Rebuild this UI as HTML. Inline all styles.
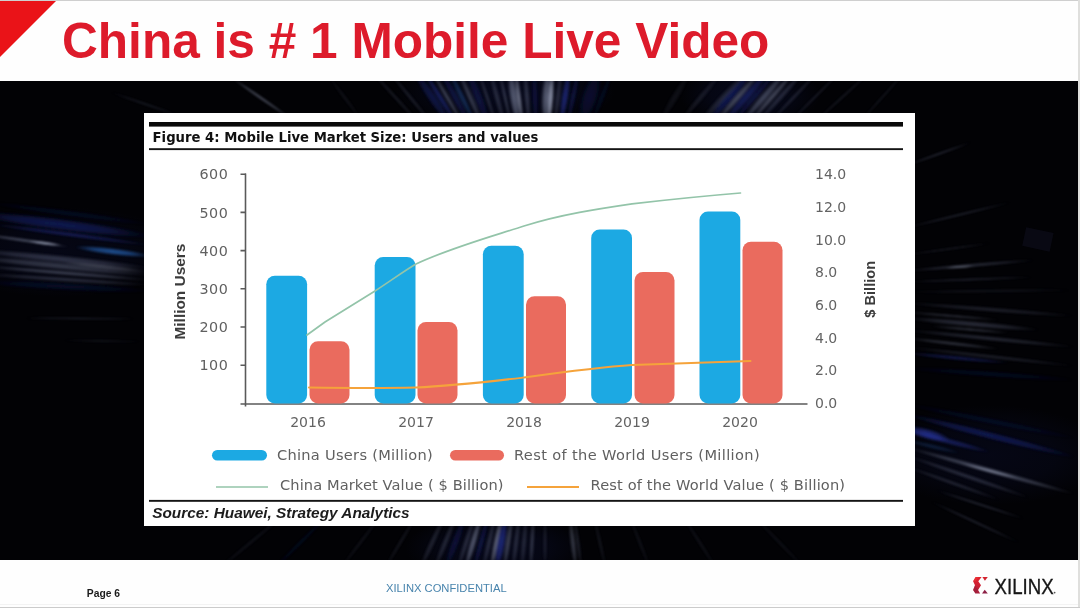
<!DOCTYPE html>
<html lang="en">
<head>
<meta charset="utf-8">
<title>China is # 1 Mobile Live Video</title>
<style>
  html, body { margin: 0; padding: 0; }
  body {
    width: 1080px; height: 608px; overflow: hidden; position: relative;
    background: #ffffff;
    font-family: "Liberation Sans", sans-serif;
  }
  .abs { position: absolute; }
  #header { left: 0; top: 0; width: 1080px; height: 81px; background: #fefefe; }
  #tri { left: 0; top: 0; width: 0; height: 0; border-top: 57px solid #ea1318; border-right: 57px solid transparent; }
  #title {
    left: 62px; top: 12.5px; white-space: nowrap;
    font: bold 49.6px/56px "Liberation Sans", sans-serif; color: #dd1b2b;
  }
  #stage { left: 0; top: 81px; width: 1078px; height: 479px; background: #020205; overflow: hidden; }
  #panel { left: 144px; top: 113px; width: 771px; height: 413px; background: #ffffff; }
  #footer { left: 0; top: 560px; width: 1080px; height: 48px; background: #fefefe; }
  #page { left: 86.8px; top: 588px; font: bold 10.3px/12px "Liberation Sans", sans-serif; color: #1a1a1a; white-space: nowrap; }
  #conf { left: 386px; top: 582px; font: 11.2px/13px "Liberation Sans", sans-serif; color: #4884ad; white-space: nowrap; }
  #bt { left: 0; top: 0; width: 1080px; height: 1px; background: #cfcfcf; }
  #br { left: 1078px; top: 0; width: 2px; height: 608px; background: #dfdfdd; }
  #bb { left: 0; top: 606.5px; width: 1080px; height: 1.5px; background: #cbcbcb; }
  #bb2 { left: 0; top: 604px; width: 1078px; height: 1px; background: #f3f3f3; }
</style>
</head>
<body>
  <div id="header" class="abs"></div>
  <div id="tri" class="abs"></div>
  <div id="title" class="abs">China is # 1 Mobile Live Video</div>

  <div id="stage" class="abs">
    <!--BG--><svg class="abs" style="left:0;top:-81px" width="1080" height="608" viewBox="0 0 1080 608"><defs><filter id="bl" x="-5%" y="-5%" width="110%" height="110%"><feGaussianBlur stdDeviation="0.9"/></filter><filter id="bl2" x="-5%" y="-5%" width="110%" height="110%"><feGaussianBlur stdDeviation="1.1"/></filter><radialGradient id="gnavy"><stop offset="0" stop-color="#18226e" stop-opacity="1"/><stop offset="0.55" stop-color="#18226e" stop-opacity="0.7"/><stop offset="1" stop-color="#18226e" stop-opacity="0"/></radialGradient><radialGradient id="gblue"><stop offset="0" stop-color="#2a38a8" stop-opacity="1"/><stop offset="0.55" stop-color="#2a38a8" stop-opacity="0.7"/><stop offset="1" stop-color="#2a38a8" stop-opacity="0"/></radialGradient><radialGradient id="gcyan"><stop offset="0" stop-color="#2a6cc4" stop-opacity="1"/><stop offset="0.55" stop-color="#2a6cc4" stop-opacity="0.7"/><stop offset="1" stop-color="#2a6cc4" stop-opacity="0"/></radialGradient><radialGradient id="ggray"><stop offset="0" stop-color="#8a92ac" stop-opacity="1"/><stop offset="0.55" stop-color="#8a92ac" stop-opacity="0.7"/><stop offset="1" stop-color="#8a92ac" stop-opacity="0"/></radialGradient><radialGradient id="gwhite"><stop offset="0" stop-color="#c4cce4" stop-opacity="1"/><stop offset="0.55" stop-color="#c4cce4" stop-opacity="0.7"/><stop offset="1" stop-color="#c4cce4" stop-opacity="0"/></radialGradient><radialGradient id="gdim"><stop offset="0" stop-color="#5a607a" stop-opacity="1"/><stop offset="0.55" stop-color="#5a607a" stop-opacity="0.7"/><stop offset="1" stop-color="#5a607a" stop-opacity="0"/></radialGradient></defs><ellipse cx="505" cy="92" rx="110" ry="36" fill="url(#gnavy)" opacity="0.22"/><ellipse cx="750" cy="95" rx="70" ry="34" fill="url(#gnavy)" opacity="0.2"/><ellipse cx="495" cy="548" rx="90" ry="34" fill="url(#gnavy)" opacity="0.2"/><ellipse cx="60" cy="252" rx="130" ry="45" fill="url(#gnavy)" opacity="0.15"/><ellipse cx="990" cy="455" rx="120" ry="50" fill="url(#gnavy)" opacity="0.15"/><rect x="1024" y="230" width="28" height="19" fill="#1c1c34" opacity="0.3" transform="rotate(12 1038 239)"/><g filter="url(#bl)"><ellipse cx="60.0" cy="224.5" rx="90.7" ry="6.4" transform="rotate(7.3 60.0 224.5)" fill="url(#gnavy)" opacity="0.68"/>
<ellipse cx="70.0" cy="234.5" rx="80.7" ry="2.4" transform="rotate(7.5 70.0 234.5)" fill="url(#gblue)" opacity="0.44"/>
<ellipse cx="25.0" cy="240.5" rx="45.5" ry="2.0" transform="rotate(8.2 25.0 240.5)" fill="url(#ggray)" opacity="0.48"/>
<ellipse cx="45.0" cy="243.2" rx="17.1" ry="2.0" transform="rotate(7.5 45.0 243.2)" fill="url(#gwhite)" opacity="0.56"/>
<ellipse cx="112.5" cy="251.5" rx="37.8" ry="3.6" transform="rotate(6.8 112.5 251.5)" fill="url(#gcyan)" opacity="0.72"/>
<ellipse cx="60.0" cy="259.0" rx="90.4" ry="4.0" transform="rotate(5.7 60.0 259.0)" fill="url(#gdim)" opacity="0.52"/>
<ellipse cx="60.0" cy="266.0" rx="90.4" ry="4.0" transform="rotate(5.7 60.0 266.0)" fill="url(#ggray)" opacity="0.36"/>
<ellipse cx="105.0" cy="267.0" rx="45.3" ry="2.0" transform="rotate(6.3 105.0 267.0)" fill="url(#gwhite)" opacity="0.28"/>
<ellipse cx="65.0" cy="273.0" rx="85.3" ry="2.4" transform="rotate(4.7 65.0 273.0)" fill="url(#ggray)" opacity="0.40"/>
<ellipse cx="65.0" cy="279.5" rx="85.2" ry="2.4" transform="rotate(3.7 65.0 279.5)" fill="url(#gdim)" opacity="0.44"/>
<ellipse cx="65.0" cy="286.5" rx="85.1" ry="4.0" transform="rotate(3.0 65.0 286.5)" fill="url(#gnavy)" opacity="0.28"/>
<ellipse cx="80.0" cy="318.5" rx="60.0" ry="1.2" transform="rotate(0.5 80.0 318.5)" fill="url(#gdim)" opacity="0.32"/>
<ellipse cx="102.0" cy="341.0" rx="42.0" ry="1.2" transform="rotate(1.4 102.0 341.0)" fill="url(#gdim)" opacity="0.20"/>
<ellipse cx="70.0" cy="213.5" rx="80.7" ry="3.2" transform="rotate(7.5 70.0 213.5)" fill="url(#gnavy)" opacity="0.24"/>
<ellipse cx="990.0" cy="435.5" rx="87.7" ry="4.0" transform="rotate(14.2 990.0 435.5)" fill="url(#gnavy)" opacity="0.68"/>
<ellipse cx="927.5" cy="434.0" rx="23.3" ry="5.6" transform="rotate(14.9 927.5 434.0)" fill="url(#gblue)" opacity="0.72"/>
<ellipse cx="947.5" cy="441.0" rx="43.9" ry="3.2" transform="rotate(14.5 947.5 441.0)" fill="url(#gblue)" opacity="0.48"/>
<ellipse cx="932.5" cy="446.5" rx="28.3" ry="2.4" transform="rotate(13.3 932.5 446.5)" fill="url(#gcyan)" opacity="0.24"/>
<ellipse cx="990.0" cy="470.5" rx="88.2" ry="2.8" transform="rotate(15.5 990.0 470.5)" fill="url(#ggray)" opacity="0.48"/>
<ellipse cx="990.0" cy="471.0" rx="31.0" ry="2.0" transform="rotate(14.9 990.0 471.0)" fill="url(#gwhite)" opacity="0.36"/>
<ellipse cx="967.5" cy="476.5" rx="66.1" ry="2.4" transform="rotate(19.0 967.5 476.5)" fill="url(#gdim)" opacity="0.44"/>
<ellipse cx="952.5" cy="483.0" rx="50.5" ry="2.0" transform="rotate(19.7 952.5 483.0)" fill="url(#gdim)" opacity="0.36"/>
<ellipse cx="980.0" cy="504.5" rx="47.3" ry="1.4" transform="rotate(17.9 980.0 504.5)" fill="url(#gdim)" opacity="0.40"/>
<ellipse cx="975.0" cy="522.0" rx="49.7" ry="1.4" transform="rotate(25.0 975.0 522.0)" fill="url(#gdim)" opacity="0.36"/>
<ellipse cx="990.0" cy="421.0" rx="86.7" ry="3.2" transform="rotate(11.3 990.0 421.0)" fill="url(#gnavy)" opacity="0.24"/>
<ellipse cx="990.0" cy="309.5" rx="85.2" ry="2.4" transform="rotate(4.4 990.0 309.5)" fill="url(#gdim)" opacity="0.32"/>
<ellipse cx="952.5" cy="316.0" rx="47.7" ry="1.6" transform="rotate(4.8 952.5 316.0)" fill="url(#ggray)" opacity="0.28"/>
<ellipse cx="972.5" cy="324.0" rx="67.8" ry="3.2" transform="rotate(5.1 972.5 324.0)" fill="url(#gdim)" opacity="0.44"/>
<ellipse cx="970.0" cy="329.5" rx="40.2" ry="1.6" transform="rotate(5.0 970.0 329.5)" fill="url(#ggray)" opacity="0.32"/>
<ellipse cx="990.0" cy="338.5" rx="85.4" ry="2.4" transform="rotate(5.7 990.0 338.5)" fill="url(#gdim)" opacity="0.40"/>
<ellipse cx="952.5" cy="343.5" rx="47.8" ry="2.0" transform="rotate(6.6 952.5 343.5)" fill="url(#ggray)" opacity="0.32"/>
<ellipse cx="990.0" cy="356.5" rx="85.5" ry="2.0" transform="rotate(6.4 990.0 356.5)" fill="url(#gdim)" opacity="0.32"/>
<ellipse cx="957.5" cy="358.0" rx="52.7" ry="2.4" transform="rotate(5.4 957.5 358.0)" fill="url(#gblue)" opacity="0.40"/>
<ellipse cx="990.0" cy="374.0" rx="85.2" ry="3.2" transform="rotate(4.0 990.0 374.0)" fill="url(#gnavy)" opacity="0.24"/>
<ellipse cx="938.5" cy="154.0" rx="35.6" ry="1.3" transform="rotate(-19.7 938.5 154.0)" fill="url(#gdim)" opacity="0.40"/>
<ellipse cx="958.5" cy="215.0" rx="55.1" ry="1.3" transform="rotate(-13.7 958.5 215.0)" fill="url(#gdim)" opacity="0.36"/>
<ellipse cx="948.5" cy="249.0" rx="43.9" ry="1.1" transform="rotate(-7.9 948.5 249.0)" fill="url(#gdim)" opacity="0.28"/>
<ellipse cx="970.0" cy="265.5" rx="65.2" ry="2.0" transform="rotate(-4.8 970.0 265.5)" fill="url(#gdim)" opacity="0.44"/>
<ellipse cx="960.0" cy="267.0" rx="15.0" ry="1.6" transform="rotate(-3.8 960.0 267.0)" fill="url(#gwhite)" opacity="0.32"/>
<ellipse cx="970.0" cy="279.5" rx="65.0" ry="1.4" transform="rotate(-2.2 970.0 279.5)" fill="url(#gdim)" opacity="0.32"/>
<ellipse cx="990.0" cy="291.0" rx="85.0" ry="1.6" transform="rotate(-0.7 990.0 291.0)" fill="url(#gdim)" opacity="0.20"/></g><g filter="url(#bl2)"><ellipse cx="432.3" cy="97.5" rx="33.3" ry="5.0" transform="rotate(55.6 432.3 97.5)" fill="url(#gnavy)" opacity="0.56"/>
<ellipse cx="440.3" cy="97.5" rx="32.5" ry="3.0" transform="rotate(57.7 440.3 97.5)" fill="url(#gblue)" opacity="0.48"/>
<ellipse cx="447.3" cy="97.5" rx="31.9" ry="2.5" transform="rotate(59.5 447.3 97.5)" fill="url(#ggray)" opacity="0.40"/>
<ellipse cx="455.3" cy="97.5" rx="31.2" ry="4.0" transform="rotate(61.7 455.3 97.5)" fill="url(#gnavy)" opacity="0.48"/>
<ellipse cx="462.2" cy="97.5" rx="30.7" ry="3.0" transform="rotate(63.7 462.2 97.5)" fill="url(#gcyan)" opacity="0.36"/>
<ellipse cx="470.2" cy="97.5" rx="30.1" ry="3.0" transform="rotate(66.1 470.2 97.5)" fill="url(#ggray)" opacity="0.36"/>
<ellipse cx="478.2" cy="97.5" rx="29.5" ry="5.0" transform="rotate(68.6 478.2 97.5)" fill="url(#gnavy)" opacity="0.44"/>
<ellipse cx="487.2" cy="97.5" rx="29.0" ry="2.0" transform="rotate(71.5 487.2 97.5)" fill="url(#gdim)" opacity="0.40"/>
<ellipse cx="497.1" cy="97.5" rx="28.5" ry="3.0" transform="rotate(74.8 497.1 97.5)" fill="url(#gdim)" opacity="0.40"/>
<ellipse cx="505.1" cy="97.5" rx="28.2" ry="2.0" transform="rotate(77.5 505.1 97.5)" fill="url(#ggray)" opacity="0.32"/>
<ellipse cx="514.1" cy="97.5" rx="27.9" ry="5.0" transform="rotate(80.7 514.1 97.5)" fill="url(#ggray)" opacity="0.60"/>
<ellipse cx="519.1" cy="97.5" rx="27.7" ry="2.5" transform="rotate(82.4 519.1 97.5)" fill="url(#gwhite)" opacity="0.48"/>
<ellipse cx="527.0" cy="97.5" rx="27.6" ry="3.0" transform="rotate(85.3 527.0 97.5)" fill="url(#gdim)" opacity="0.48"/>
<ellipse cx="535.0" cy="97.5" rx="27.5" ry="3.0" transform="rotate(88.2 535.0 97.5)" fill="url(#gnavy)" opacity="0.40"/>
<ellipse cx="547.0" cy="97.5" rx="27.5" ry="6.0" transform="rotate(92.5 547.0 97.5)" fill="url(#ggray)" opacity="0.64"/>
<ellipse cx="551.0" cy="97.5" rx="27.6" ry="3.0" transform="rotate(94.0 551.0 97.5)" fill="url(#gwhite)" opacity="0.56"/>
<ellipse cx="557.9" cy="97.5" rx="27.7" ry="3.0" transform="rotate(96.5 557.9 97.5)" fill="url(#gdim)" opacity="0.40"/>
<ellipse cx="564.9" cy="97.5" rx="27.8" ry="4.0" transform="rotate(99.0 564.9 97.5)" fill="url(#gblue)" opacity="0.60"/>
<ellipse cx="572.9" cy="97.5" rx="28.1" ry="3.0" transform="rotate(101.8 572.9 97.5)" fill="url(#gnavy)" opacity="0.48"/>
<ellipse cx="589.8" cy="97.5" rx="28.8" ry="9.0" transform="rotate(107.6 589.8 97.5)" fill="url(#gnavy)" opacity="0.36"/>
<ellipse cx="601.8" cy="97.5" rx="29.5" ry="3.0" transform="rotate(111.4 601.8 97.5)" fill="url(#gnavy)" opacity="0.24"/>
<ellipse cx="410.4" cy="97.5" rx="35.6" ry="2.0" transform="rotate(50.6 410.4 97.5)" fill="url(#gdim)" opacity="0.28"/>
<ellipse cx="395.5" cy="97.5" rx="37.3" ry="2.0" transform="rotate(47.5 395.5 97.5)" fill="url(#gdim)" opacity="0.24"/>
<ellipse cx="724.0" cy="97.0" rx="34.7" ry="4.0" transform="rotate(-46.2 724.0 97.0)" fill="url(#gdim)" opacity="0.36"/>
<ellipse cx="730.0" cy="97.0" rx="33.3" ry="5.0" transform="rotate(-48.7 730.0 97.0)" fill="url(#gnavy)" opacity="0.64"/>
<ellipse cx="738.0" cy="97.0" rx="33.3" ry="3.0" transform="rotate(-48.7 738.0 97.0)" fill="url(#ggray)" opacity="0.48"/>
<ellipse cx="746.0" cy="97.0" rx="33.3" ry="5.0" transform="rotate(-48.7 746.0 97.0)" fill="url(#gblue)" opacity="0.44"/>
<ellipse cx="754.5" cy="97.0" rx="33.0" ry="3.0" transform="rotate(-49.3 754.5 97.0)" fill="url(#gnavy)" opacity="0.48"/>
<ellipse cx="764.0" cy="97.0" rx="33.3" ry="4.0" transform="rotate(-48.7 764.0 97.0)" fill="url(#ggray)" opacity="0.44"/>
<ellipse cx="772.0" cy="97.0" rx="33.3" ry="3.0" transform="rotate(-48.7 772.0 97.0)" fill="url(#gwhite)" opacity="0.32"/>
<ellipse cx="780.5" cy="97.0" rx="33.6" ry="3.0" transform="rotate(-48.0 780.5 97.0)" fill="url(#gdim)" opacity="0.40"/>
<ellipse cx="794.0" cy="97.0" rx="34.7" ry="2.0" transform="rotate(-46.2 794.0 97.0)" fill="url(#gdim)" opacity="0.32"/>
<ellipse cx="815.0" cy="97.0" rx="35.4" ry="1.5" transform="rotate(-45.0 815.0 97.0)" fill="url(#gdim)" opacity="0.28"/>
<ellipse cx="842.5" cy="97.0" rx="37.2" ry="1.5" transform="rotate(-42.3 842.5 97.0)" fill="url(#gdim)" opacity="0.24"/>
<ellipse cx="882.5" cy="97.0" rx="33.6" ry="1.2" transform="rotate(-48.0 882.5 97.0)" fill="url(#gdim)" opacity="0.24"/>
<ellipse cx="701.0" cy="97.0" rx="32.6" ry="3.0" transform="rotate(-50.0 701.0 97.0)" fill="url(#gdim)" opacity="0.24"/>
<ellipse cx="675.0" cy="97.0" rx="29.2" ry="4.0" transform="rotate(-59.0 675.0 97.0)" fill="url(#gdim)" opacity="0.16"/>
<ellipse cx="261.0" cy="98.0" rx="35.2" ry="1.8" transform="rotate(34.6 261.0 98.0)" fill="url(#ggray)" opacity="0.48"/>
<ellipse cx="145.0" cy="104.0" rx="37.0" ry="1.5" transform="rotate(18.9 145.0 104.0)" fill="url(#gdim)" opacity="0.24"/>
<ellipse cx="345.0" cy="98.0" rx="25.0" ry="2.0" transform="rotate(53.1 345.0 98.0)" fill="url(#gdim)" opacity="0.16"/>
<ellipse cx="432.2" cy="542.5" rx="30.3" ry="3.0" transform="rotate(114.9 432.2 542.5)" fill="url(#gdim)" opacity="0.32"/>
<ellipse cx="445.2" cy="542.5" rx="29.7" ry="3.0" transform="rotate(112.4 445.2 542.5)" fill="url(#gdim)" opacity="0.36"/>
<ellipse cx="455.2" cy="542.5" rx="29.3" ry="4.0" transform="rotate(110.3 455.2 542.5)" fill="url(#gnavy)" opacity="0.40"/>
<ellipse cx="466.2" cy="542.5" rx="28.9" ry="3.0" transform="rotate(108.0 466.2 542.5)" fill="url(#gdim)" opacity="0.40"/>
<ellipse cx="473.1" cy="542.5" rx="28.7" ry="3.5" transform="rotate(106.5 473.1 542.5)" fill="url(#ggray)" opacity="0.56"/>
<ellipse cx="481.1" cy="542.5" rx="28.4" ry="3.0" transform="rotate(104.8 481.1 542.5)" fill="url(#gnavy)" opacity="0.48"/>
<ellipse cx="489.1" cy="542.5" rx="28.2" ry="3.0" transform="rotate(103.0 489.1 542.5)" fill="url(#gdim)" opacity="0.40"/>
<ellipse cx="496.1" cy="542.5" rx="28.1" ry="3.0" transform="rotate(101.4 496.1 542.5)" fill="url(#gwhite)" opacity="0.44"/>
<ellipse cx="501.1" cy="542.5" rx="27.9" ry="5.0" transform="rotate(100.3 501.1 542.5)" fill="url(#gblue)" opacity="0.64"/>
<ellipse cx="508.1" cy="542.5" rx="27.8" ry="3.0" transform="rotate(98.7 508.1 542.5)" fill="url(#ggray)" opacity="0.40"/>
<ellipse cx="516.1" cy="542.5" rx="27.7" ry="3.0" transform="rotate(96.8 516.1 542.5)" fill="url(#gdim)" opacity="0.40"/>
<ellipse cx="524.0" cy="542.5" rx="27.6" ry="3.0" transform="rotate(94.9 524.0 542.5)" fill="url(#gdim)" opacity="0.36"/>
<ellipse cx="532.0" cy="542.5" rx="27.5" ry="2.5" transform="rotate(93.1 532.0 542.5)" fill="url(#ggray)" opacity="0.32"/>
<ellipse cx="545.0" cy="542.5" rx="27.5" ry="2.0" transform="rotate(90.0 545.0 542.5)" fill="url(#gdim)" opacity="0.28"/>
<ellipse cx="572.9" cy="542.5" rx="27.7" ry="3.0" transform="rotate(83.4 572.9 542.5)" fill="url(#ggray)" opacity="0.36"/>
<ellipse cx="577.9" cy="542.5" rx="27.8" ry="2.0" transform="rotate(82.3 577.9 542.5)" fill="url(#gdim)" opacity="0.32"/>
<ellipse cx="599.9" cy="542.5" rx="28.2" ry="2.0" transform="rotate(77.2 599.9 542.5)" fill="url(#gdim)" opacity="0.20"/>
<ellipse cx="639.8" cy="542.5" rx="29.5" ry="2.0" transform="rotate(68.6 639.8 542.5)" fill="url(#gdim)" opacity="0.16"/>
<ellipse cx="400.3" cy="542.5" rx="32.0" ry="2.0" transform="rotate(120.8 400.3 542.5)" fill="url(#gdim)" opacity="0.20"/>
<ellipse cx="360.4" cy="542.5" rx="34.6" ry="2.0" transform="rotate(127.3 360.4 542.5)" fill="url(#gdim)" opacity="0.16"/>
<ellipse cx="300.5" cy="542.5" rx="39.1" ry="2.0" transform="rotate(135.2 300.5 542.5)" fill="url(#gnavy)" opacity="0.24"/>
<ellipse cx="250.6" cy="542.5" rx="43.3" ry="2.0" transform="rotate(140.5 250.6 542.5)" fill="url(#gdim)" opacity="0.16"/>
<ellipse cx="699.7" cy="542.5" rx="32.6" ry="2.0" transform="rotate(57.5 699.7 542.5)" fill="url(#gdim)" opacity="0.16"/>
<ellipse cx="779.5" cy="542.5" rx="38.3" ry="2.0" transform="rotate(46.0 779.5 542.5)" fill="url(#gdim)" opacity="0.14"/></g></svg><!--/BG-->
  </div>

  <div id="panel" class="abs"></div>
  <svg id="chart" class="abs" style="left:0;top:0" width="1080" height="608" viewBox="0 0 1080 608">
    <!-- figure rules -->
    <rect x="149" y="122" width="754" height="4.6" fill="#0a0a0a"/>
    <rect x="149" y="148.2" width="754" height="1.9" fill="#141414"/>
    <rect x="149" y="499.9" width="754" height="1.9" fill="#141414"/>
    <text x="152.6" y="142.2" font-family="'DejaVu Sans', sans-serif" font-weight="bold" font-size="13.23" fill="#111">Figure 4: Mobile Live Market Size: Users and values</text>
    <text x="152.2" y="518" font-family="'Liberation Sans', sans-serif" font-weight="bold" font-style="italic" font-size="15.38" fill="#1c1c1c">Source: Huawei, Strategy Analytics</text>

    <!-- axes -->
    <g stroke="#5a5a5a" stroke-width="1.6" fill="none">
      <path d="M245.5 173.5 V406.5"/>
      <path d="M240.5 404 H807.5"/>
      <path d="M240.5 174.3 H246 M240.5 212.4 H246 M240.5 250.6 H246 M240.5 288.8 H246 M240.5 327 H246 M240.5 365.2 H246"/>
    </g>

    <!-- left axis labels -->
    <g font-family="'DejaVu Sans', sans-serif" font-size="14.3" fill="#606060" text-anchor="end" letter-spacing="0.5">
      <text x="228.3" y="179.3">600</text>
      <text x="228.3" y="217.5">500</text>
      <text x="228.3" y="255.7">400</text>
      <text x="228.3" y="293.9">300</text>
      <text x="228.3" y="332.1">200</text>
      <text x="228.3" y="370.3">100</text>
    </g>
    <!-- right axis labels -->
    <g font-family="'DejaVu Sans', sans-serif" font-size="14" fill="#636363">
      <text x="815" y="179.2">14.0</text>
      <text x="815" y="211.9">12.0</text>
      <text x="815" y="244.6">10.0</text>
      <text x="815" y="277.3">8.0</text>
      <text x="815" y="310.0">6.0</text>
      <text x="815" y="342.7">4.0</text>
      <text x="815" y="375.4">2.0</text>
      <text x="815" y="408.1">0.0</text>
    </g>
    <!-- year labels -->
    <g font-family="'DejaVu Sans', sans-serif" font-size="14" fill="#636363" text-anchor="middle">
      <text x="308" y="427">2016</text>
      <text x="416" y="427">2017</text>
      <text x="524" y="427">2018</text>
      <text x="632" y="427">2019</text>
      <text x="740" y="427">2020</text>
    </g>
    <!-- axis titles -->
    <text transform="translate(184.5,291.6) rotate(-90)" text-anchor="middle" font-family="'Liberation Sans', sans-serif" font-weight="bold" font-size="15.4" fill="#3c3c3c">Million Users</text>
    <text transform="translate(875.2,289.3) rotate(-90)" text-anchor="middle" font-family="'Liberation Sans', sans-serif" font-weight="bold" font-size="14.6" fill="#3c3c3c">$ Billion</text>

    <!-- bars -->
    <g fill="#1ca9e3">
      <rect x="266.3" y="275.8" width="40.8" height="127.7" rx="8.5"/>
      <rect x="374.7" y="257" width="40.8" height="146.5" rx="8.5"/>
      <rect x="482.9" y="245.8" width="40.8" height="157.7" rx="8.5"/>
      <rect x="591.2" y="229.5" width="40.8" height="174" rx="8.5"/>
      <rect x="699.5" y="211.5" width="40.8" height="192" rx="8.5"/>
    </g>
    <g fill="#ea6b5e">
      <rect x="309.5" y="341.2" width="40" height="62.3" rx="8.5"/>
      <rect x="417.5" y="322" width="40" height="81.5" rx="8.5"/>
      <rect x="526" y="296.2" width="40" height="107.3" rx="8.5"/>
      <rect x="634.5" y="272" width="40" height="131.5" rx="8.5"/>
      <rect x="742.5" y="241.8" width="40" height="161.7" rx="8.5"/>
    </g>
    <!-- lines -->
    <path d="M307 335 L325 322 L375 291 C392 280 404 271 416 264 C450 248 490 237 524 226 C560 214.5 600 208.5 632 203.8 C670 199.5 710 195.5 740.5 193" fill="none" stroke="#93c4a9" stroke-width="1.7" stroke-linecap="round"/>
    <path d="M309 387.5 C345 388 380 388.3 416 387.5 C452 386 490 381.5 524 377.5 C560 372.5 600 367 632 365 C670 363.5 710 362 750.5 361" fill="none" stroke="#f5a33b" stroke-width="2" stroke-linecap="round"/>

    <!-- legend -->
    <rect x="212" y="450" width="55" height="10.5" rx="5.2" fill="#1ca9e3"/>
    <rect x="450" y="450" width="54" height="10.5" rx="5.2" fill="#ea6b5e"/>
    <path d="M216 487 H268" stroke="#93c4a9" stroke-width="1.7"/>
    <path d="M527 487 H579" stroke="#f5a33b" stroke-width="2"/>
    <g font-family="'DejaVu Sans', sans-serif" font-size="14.6" fill="#606060">
      <text x="277" y="460.3" letter-spacing="0.28">China Users (Million)</text>
      <text x="514" y="460.3" letter-spacing="0.36">Rest of the World Users (Million)</text>
      <text x="280" y="489.6" letter-spacing="0.11">China Market Value ( $ Billion)</text>
      <text x="590.5" y="489.6" letter-spacing="0.15">Rest of the World Value ( $ Billion)</text>
    </g>
  </svg>

  <div id="footer" class="abs"></div>
  <div id="page" class="abs">Page 6</div>
  <div id="conf" class="abs">XILINX CONFIDENTIAL</div>
  <svg id="logo" class="abs" style="left:0;top:0" width="1080" height="608" viewBox="0 0 1080 608">
    <defs>
      <linearGradient id="lgx" x1="0" y1="0" x2="0" y2="1">
        <stop offset="0" stop-color="#e3222e"/><stop offset="0.5" stop-color="#cf2034"/><stop offset="1" stop-color="#a51f3c"/>
      </linearGradient>
    </defs>
    <polygon points="975.6,577.1 981.6,577.1 978.3,581.2 981,585.3 978.1,589.9 980.1,593.5 975.4,593.5 973.1,589.9 975,585.3 973.1,581.2" fill="url(#lgx)"/>
    <polygon points="975.6,577.1 978.6,577.1 975.6,581.2 973.1,581.2" fill="#ef3a3a" opacity="0.55"/>
    <polygon points="975,585.3 978.1,589.9 975.4,593.5 973.1,589.9" fill="#8e1c3c" opacity="0.45"/>
    <polygon points="982.4,577.1 987.8,577.1 984.9,580.7" fill="#d3242f"/>
    <polygon points="982,593.5 987.8,593.5 984.7,589.8" fill="#8c1f45"/>
    <text transform="translate(994.6,593.9) scale(0.818,1)" font-family="'Liberation Sans', sans-serif" font-size="22.8" fill="#161616" stroke="#161616" stroke-width="0.35">XILINX</text>
    <circle cx="1054.6" cy="592.6" r="0.9" fill="#555"/>
  </svg>

  <div id="bt" class="abs"></div>
  <div id="br" class="abs"></div>
  <div id="bb2" class="abs"></div>
  <div id="bb" class="abs"></div>
</body>
</html>
